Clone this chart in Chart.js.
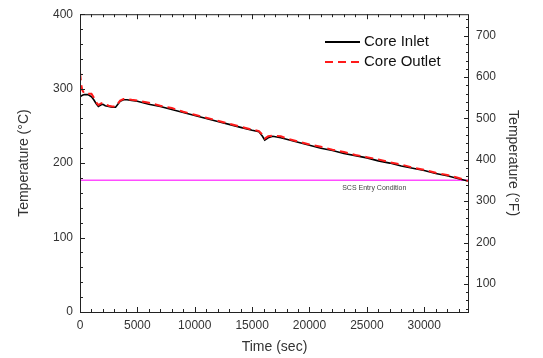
<!DOCTYPE html>
<html>
<head>
<meta charset="utf-8">
<script src="https://cdn.jsdelivr.net/npm/chart.js@4.4.0/dist/chart.umd.min.js"></script>
<style>
  html, body { margin:0; padding:0; background:#fff; }
  #wrap { width:543px; height:358px; }
</style>
</head>
<body>
<div id="wrap"><canvas id="tempChart" width="543" height="358"></canvas></div>
<script>
/* core inlet / outlet temperature during cooldown */

const timeSec = [0, 100, 200, 400, 700, 1000, 1200, 1400, 1600, 1800, 2000, 2200, 2500, 2800, 3100, 3300, 3500, 3800, 4100, 4500,
  5000, 6000, 7000, 8000, 9000, 10000, 11000, 12000, 13000, 14000, 15000, 15600, 15900, 16100, 16400, 16800, 17500, 18000,
  19000, 20000, 21000, 22000, 23000, 24000, 25000, 26000, 27000, 28000, 29000, 30000, 31000, 32000, 33000, 33800];
const coreInlet = [289, 290, 291, 292, 292, 289, 285, 280, 276, 278, 279, 277, 276, 275, 275, 279, 283, 285, 285, 284,
  283, 279, 276, 272, 268, 264, 260, 256, 252, 248, 244, 242, 236, 231, 234, 236, 234, 232,
  228, 224, 220, 217, 213, 210, 207, 203, 200, 196, 193, 190, 186, 183, 179, 176];
const coreOutlet = [322, 306, 298, 293, 293, 293, 288, 282, 278, 280, 281, 279, 277, 276, 276, 280, 284, 286, 286, 285,
  284, 281, 277, 274, 269, 265, 261, 257, 253, 249, 245, 243, 238, 233, 236, 237, 236, 233,
  229, 225, 222, 218, 215, 211, 208, 205, 201, 198, 194, 191, 187, 184, 180, 176];
const scsEntry = 177;           // deg C
const xTicks = [0, 5000, 10000, 15000, 20000, 25000, 30000];
const yTicksC = [0, 100, 200, 300, 400];
const yTicksF = [100, 200, 300, 400, 500, 600, 700];

const FONT = "'Liberation Sans', Arial, sans-serif";
const INK = '#333';

const pts = (ys) => timeSec.map((t, i) => ({x: t, y: ys[i]}));
const plain = (v) => String(v);

// frame, inward major/minor ticks, legend, annotation text
const framePlugin = {
  id: 'frame',
  afterDraw(chart) {
    const {ctx, chartArea: a, scales} = chart;
    ctx.save();
    ctx.strokeStyle = '#222';
    ctx.lineWidth = 1;
    ctx.strokeRect(a.left + 0.5, a.top + 0.5, a.right - a.left - 1, a.bottom - a.top);

    ctx.beginPath();
    for (let v = 0; v <= scales.x.max; v += 1000) {
      const px = Math.round(scales.x.getPixelForValue(v)) + 0.5;
      const len = v % 5000 === 0 ? 5 : 3;
      ctx.moveTo(px, a.bottom); ctx.lineTo(px, a.bottom - len);
      ctx.moveTo(px, a.top); ctx.lineTo(px, a.top + len);
    }
    for (let v = 0; v <= 400; v += 20) {
      const py = Math.round(scales.y.getPixelForValue(v)) + 0.5;
      const len = v % 100 === 0 ? 5 : 3;
      ctx.moveTo(a.left, py); ctx.lineTo(a.left + len, py);
    }
    for (let v = 40; v <= scales.y2.max; v += 20) {
      const py = Math.round(scales.y2.getPixelForValue(v)) + 0.5;
      const len = v % 100 === 0 ? 5 : 3;
      ctx.moveTo(a.right, py); ctx.lineTo(a.right - len, py);
    }
    ctx.stroke();

    // legend
    const lx = 325, ly = 42;
    ctx.lineWidth = 2;
    ctx.strokeStyle = '#000';
    ctx.beginPath(); ctx.moveTo(lx, ly); ctx.lineTo(lx + 35, ly); ctx.stroke();
    ctx.strokeStyle = '#ff1a1a';
    ctx.setLineDash([8, 5]);
    ctx.beginPath(); ctx.moveTo(lx, ly + 20); ctx.lineTo(lx + 35, ly + 20); ctx.stroke();
    ctx.setLineDash([]);
    ctx.fillStyle = '#111';
    ctx.font = '15px ' + FONT;
    ctx.textBaseline = 'middle';
    ctx.fillText('Core Inlet', lx + 39, ly);
    ctx.fillText('Core Outlet', lx + 39, ly + 20);

    // annotation under the SCS line
    ctx.font = '7px ' + FONT;
    ctx.fillStyle = '#444';
    ctx.fillText('SCS Entry Condition', scales.x.getPixelForValue(22850), scales.y.getPixelForValue(scsEntry) + 8);
    ctx.restore();
  }
};

new Chart(document.getElementById('tempChart').getContext('2d'), {
  type: 'line',
  data: {
    datasets: [
      { label: 'SCS Entry Condition', data: [{x: 0, y: scsEntry}, {x: 33900, y: scsEntry}],
        borderColor: '#ff4dff', borderWidth: 1.5, pointRadius: 0, order: 3 },
      { label: 'Core Outlet', data: pts(coreOutlet), borderColor: '#ff1a1a', borderWidth: 2,
        borderDash: [8, 5], pointRadius: 0, tension: 0, order: 1 },
      { label: 'Core Inlet', data: pts(coreInlet), borderColor: '#000', borderWidth: 1.6,
        pointRadius: 0, tension: 0, order: 2 }
    ]
  },
  options: {
    responsive: false,
    animation: false,
    layout: { padding: { top: 14, left: 0, right: 0, bottom: 0 } },
    plugins: { legend: { display: false }, tooltip: { enabled: false } },
    scales: {
      x: {
        type: 'linear', min: 0, max: 33900,
        afterBuildTicks: (s) => { s.ticks = xTicks.map(v => ({value: v})); },
        afterFit: (s) => { s.height = 46; },
        grid: { display: false, drawTicks: false },
        border: { display: false },
        ticks: { color: INK, padding: 6, maxRotation: 0, callback: plain, font: { family: FONT, size: 12 } },
        title: { display: true, text: 'Time (sec)', color: INK, padding: { bottom: 2 },
          font: { family: FONT, size: 14 } }
      },
      y: {
        type: 'linear', position: 'left', min: 0, max: 400,
        afterBuildTicks: (s) => { s.ticks = yTicksC.map(v => ({value: v})); },
        afterFit: (s) => { s.width = 80; },
        grid: { display: false, drawTicks: false },
        border: { display: false },
        ticks: { color: INK, padding: 7, callback: plain, font: { family: FONT, size: 12 } },
        title: { display: true, text: 'Temperature (°C)', color: INK, padding: { top: 16 },
          font: { family: FONT, size: 14 } }
      },
      y2: {
        type: 'linear', position: 'right', min: 32, max: 752,
        afterBuildTicks: (s) => { s.ticks = yTicksF.map(v => ({value: v})); },
        afterFit: (s) => { s.width = 74; },
        grid: { display: false, drawTicks: false },
        border: { display: false },
        ticks: { color: INK, padding: 7, callback: plain, font: { family: FONT, size: 12 } },
        title: { display: true, text: 'Temperature (°F)', color: INK, padding: { top: 22 },
          font: { family: FONT, size: 14 } }
      }
    }
  },
  plugins: [framePlugin]
});
</script>
</body>
</html>
